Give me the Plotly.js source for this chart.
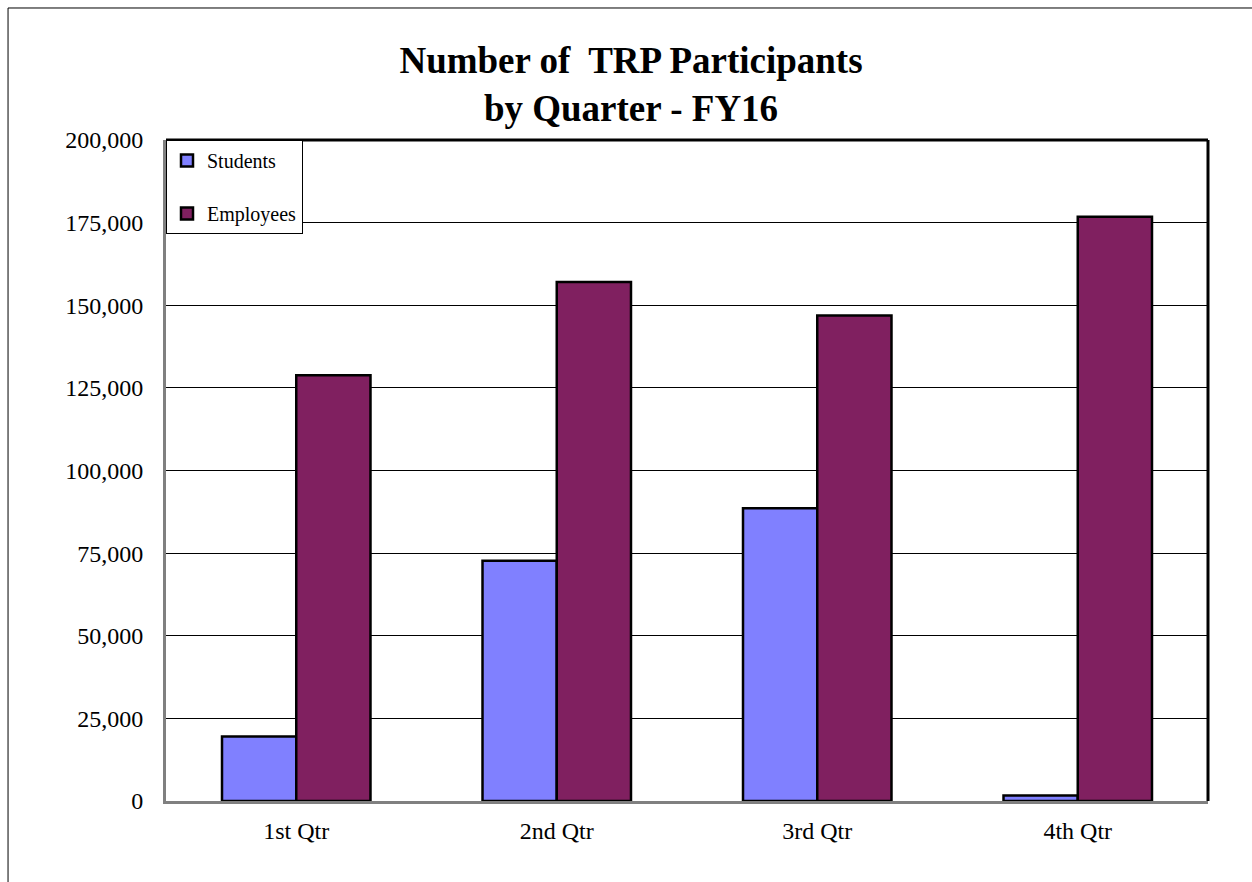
<!DOCTYPE html>
<html>
<head>
<meta charset="utf-8">
<script src="https://cdn.plot.ly/plotly-3.0.1.min.js"></script>
<style>html,body{margin:0;padding:0;background:#fff;}#chart{width:1252px;height:882px;}</style>
</head>
<body>
<div id="chart"></div>
<script>
const categories = ["1st Qtr", "2nd Qtr", "3rd Qtr", "4th Qtr"];
const students = [19500, 72700, 88600, 1700];
const employees = [128800, 157000, 146900, 176800];
const yTicks = [0, 25000, 50000, 75000, 100000, 125000, 150000, 175000, 200000];
const yTickLabels = ["0", "25,000", "50,000", "75,000", "100,000", "125,000", "150,000", "175,000", "200,000"];

const serif = "Liberation Serif, DejaVu Serif, serif";

const traces = [
  {type: "bar", name: "Students", x: categories, y: students, legendgroup: "s",
   marker: {color: "#8080FF", line: {color: "#000", width: 2.5}}},
  {type: "bar", name: "Employees", x: categories, y: employees, legendgroup: "e",
   marker: {color: "#802060", line: {color: "#000", width: 2.5}}}
];

const layout = {
  width: 1252, height: 882,
  paper_bgcolor: "#fff", plot_bgcolor: "#fff",
  margin: {l: 166, r: 44, t: 140, b: 81},
  font: {family: serif, color: "#000"},
  title: {text: "<b>Number of  TRP Participants<br>by Quarter - FY16</b>",
          font: {family: serif, size: 37, color: "#000"},
          x: 0.504, xanchor: "center", y: 0.917, yanchor: "top", yref: "container"},
  barmode: "group", bargap: 0.43, bargroupgap: 0,
  showlegend: true,
  legend: {x: 0, y: 1, xanchor: "left", yanchor: "top", bgcolor: "#fff",
           bordercolor: "#000", borderwidth: 1, font: {family: serif, size: 20, color: "#000"},
           traceorder: "grouped", tracegroupgap: 24, itemwidth: 30},
  xaxis: {type: "category", showgrid: false, showline: true, linecolor: "#808080", linewidth: 3,
          ticks: "", tickfont: {family: serif, size: 24, color: "#000"}, zeroline: false, ticklabelstandoff: 6},
  yaxis: {range: [0, 200000], tickvals: yTicks, ticktext: yTickLabels, showgrid: true,
          gridcolor: "#000", gridwidth: 1, showline: true, linecolor: "#808080", linewidth: 3,
          ticks: "", tickfont: {family: serif, size: 24, color: "#000"}, zeroline: false, ticklabelstandoff: 15},
  shapes: [
    {type: "line", xref: "paper", yref: "paper", x0: 0, x1: 1, y0: 1, y1: 1, line: {color: "#000", width: 3}},
    {type: "line", xref: "paper", yref: "paper", x0: 1, x1: 1, y0: 0, y1: 1, line: {color: "#000", width: 3}},
    {type: "rect", xref: "paper", yref: "paper", x0: -0.1516, x1: 1.3, y0: -0.5, y1: 1.1997, line: {color: "#000", width: 1}, layer: "below"}
  ]
};

Plotly.newPlot("chart", traces, layout, {displayModeBar: false, staticPlot: true});
</script>
</body>
</html>
